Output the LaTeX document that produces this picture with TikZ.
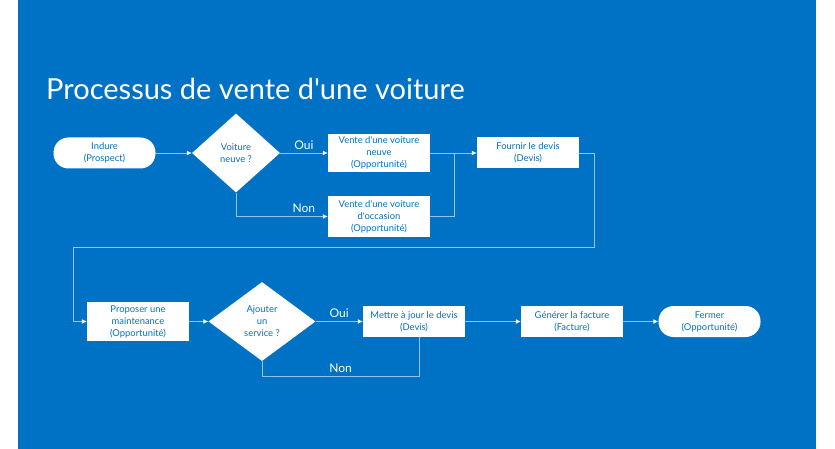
\documentclass[tikz,border=0pt]{standalone}
\usepackage{fontspec}
\setmainfont{Lato}[Ligatures=TeXOff]
\usetikzlibrary{positioning,calc,shapes.geometric,arrows.meta}

\definecolor{slide}{RGB}{0,114,198}
\definecolor{wire}{RGB}{150,196,236}

\begin{document}
\begin{tikzpicture}[x=1pt,y=-1pt]
  \useasboundingbox (0,0) rectangle (835,449);
  \fill[white] (0,0) rectangle (835,449);
  \fill[slide] (18,0) rectangle (816,449);
  \node[anchor=base west,inner sep=0pt,text=white,
    font=\fontsize{29}{34}\selectfont](title) at (46,100)
    {Processus de vente d'une voiture};
  \begin{scope}[
    every node/.style={
      align=center,
      anchor=center,
      fill=white,
      text=slide,
      font=\fontsize{9.4}{12}\selectfont,
      inner sep=0pt,
      minimum width=102pt,
      minimum height=31pt,
    },
    term/.style={rounded corners=15pt},
    choice/.style={shape=diamond,minimum width=88pt,minimum height=79pt},
    ]
    % premiere ligne
    \node[term] (inclure) at (104.5,153) {Indure\\(Prospect)};
    \node[choice] (q-neuve) at (236,153) {Voiture\\neuve ?};
    \node[minimum height=38pt] (v-neuve) at (379,153)
      {Vente d'une voiture\\neuve\\(Opportunité)};
    \node[minimum height=41pt] (v-occas) at (379,216.5)
      {Vente d'une voiture\\d'occasion\\(Opportunité)};
    \node (devis) at (528,153) {Fournir le devis\\(Devis)};
    % deuxieme ligne
    \node[minimum height=39pt] (maint) at (138,321.5)
      {Proposer une\\maintenance\\(Opportunité)};
    \node[choice,minimum width=107pt] (q-service) at (262,321.5)
      {Ajouter\\un\\service ?};
    \node (maj) at (414,321.5) {Mettre à jour le devis\\(Devis)};
    \node (facture) at (572,321.5) {Générer la facture\\(Facture)};
    \node[term] (fermer) at (709.5,321.5) {Fermer\\(Opportunité)};
  \end{scope}
  \coordinate (join) at (454,153);
  \coordinate (loop-r) at (594,247);
  \coordinate (loop-l) at (73,247);
  \coordinate (svc-non) at (419,376);
  \begin{scope}[
    every node/.style={font=\fontsize{12}{14}\selectfont,text=white,inner sep=3pt},
    every path/.style={draw=wire,line width=0.9pt,
      >={Latex[color=white,length=5pt,width=5pt]}},
    ]
    \path[->]
    (inclure) edge (q-neuve)
    (q-neuve) edge node[above]{Oui} (v-neuve)
    (v-neuve) edge (devis)
    (maint) edge (q-service)
    (q-service) edge node[above]{Oui} (maj)
    (maj) edge (facture)
    (facture) edge (fermer);
    \draw[->] (q-neuve.south) |- node[pos=0.87,above]{Non} (v-occas.west);
    \draw (v-occas.east) -| (join);
    \draw[->] (devis.east) -| (loop-r) -- (loop-l) |- (maint.west);
    \draw (q-service.south) |- node[pos=0.75,above]{Non} (svc-non)
      -- (svc-non |- maj.south);
  \end{scope}
\end{tikzpicture}
\end{document}
